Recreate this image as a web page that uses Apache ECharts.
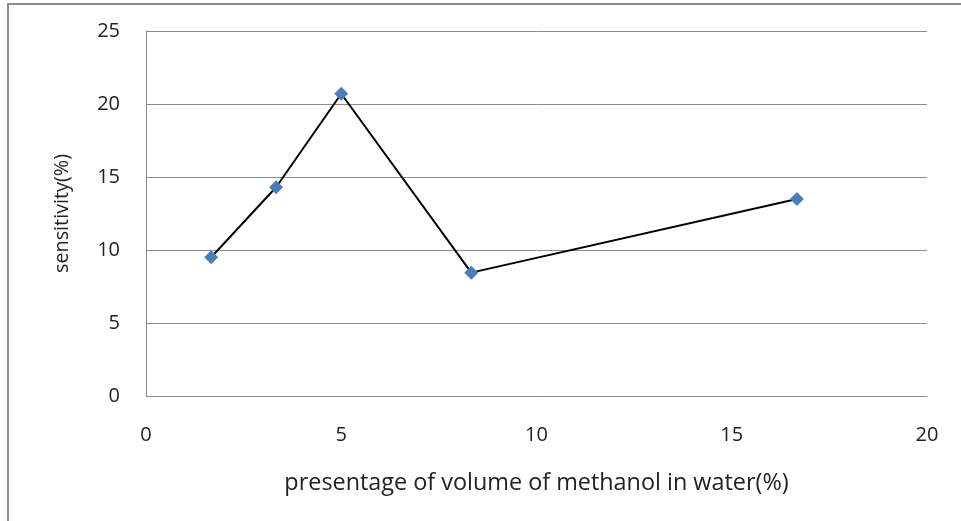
<!DOCTYPE html>
<html>
<head>
<meta charset="utf-8">
<script src="https://cdn.jsdelivr.net/npm/echarts@6/dist/echarts.min.js"></script>
<style>html,body{margin:0;padding:0;background:#fff;}#c{width:961px;height:521px;}</style>
</head>
<body>
<div id="c"></div>
<script>
const xValues = [1.67, 3.33, 5, 8.33, 16.67];
const yValues = [9.5, 14.3, 20.7, 8.45, 13.5];
const xTitle = 'presentage of volume of methanol in water(%)';
const yTitle = 'sensitivity(%)';

const chart = echarts.init(document.getElementById('c'));
const font = '"Open Sans", "Liberation Sans", sans-serif';
chart.setOption({
  animation: false,
  backgroundColor: '#fff',
  graphic: [{
    type: 'rect', shape: {x: 8, y: 4, width: 1000, height: 600},
    style: {fill: 'none', stroke: '#8c8c8c', lineWidth: 2}, z: 100, silent: true
  }],
  grid: {left: 146, top: 31, width: 781, height: 365, containLabel: false},
  xAxis: {
    type: 'value', min: 0, max: 20, interval: 5,
    name: xTitle, nameLocation: 'middle', nameGap: 76,
    nameTextStyle: {fontFamily: font, fontSize: 23.4, color: '#222'},
    axisLine: {show: true, lineStyle: {color: '#8c8c8c', width: 1}},
    axisTick: {show: false},
    axisLabel: {fontFamily: font, fontSize: 20, color: '#222', margin: 29},
    splitLine: {show: false}
  },
  yAxis: {
    type: 'value', min: 0, max: 25, interval: 5,
    name: yTitle, nameLocation: 'middle', nameGap: 74, nameRotate: 90,
    nameTextStyle: {fontFamily: font, fontSize: 19.8, color: '#222'},
    axisLine: {show: true, lineStyle: {color: '#8c8c8c', width: 1}},
    axisTick: {show: false},
    axisLabel: {fontFamily: font, fontSize: 20, color: '#222', margin: 26},
    splitLine: {show: true, lineStyle: {color: '#8c8c8c', width: 1}}
  },
  series: [{
    type: 'line',
    data: xValues.map((x, i) => [x, yValues[i]]),
    symbol: 'diamond', symbolSize: 14,
    itemStyle: {color: '#4a7ebb'},
    lineStyle: {color: '#000', width: 2},
    z: 5
  }]
});
</script>
</body>
</html>
